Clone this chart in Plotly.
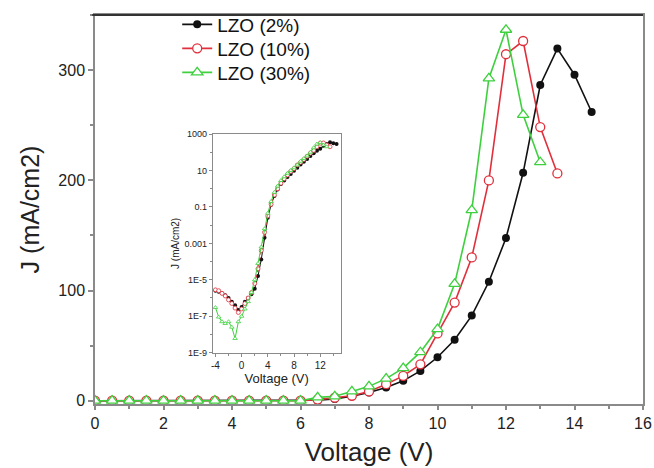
import plotly.graph_objects as go

# ---------------- main panel data ----------------
voltage = [0.0, 0.5, 1.0, 1.5, 2.0, 2.5, 3.0, 3.5, 4.0, 4.5, 5.0, 5.5, 6.0, 6.5,
           7.0, 7.5, 8.0, 8.5, 9.0, 9.5, 10.0, 10.5, 11.0, 11.5, 12.0, 12.5,
           13.0, 13.5, 14.0, 14.5]
j_2 = [0, 0, 0, 0, 0, 0, 0, 0, 0, 0, 0, 0, 0, 0.5,
       1.5, 4, 7.5, 12, 18, 27, 39.4, 55.3, 77.2, 107.9, 147.6, 206.8,
       286.5, 319.5, 295.8, 262]
j_10 = [0, 0, 0, 0, 0, 0, 0, 0, 0, 0, 0, 0, 0, 1,
        2.7, 4.5, 8.4, 15, 22.5, 33, 61, 89, 130, 199.9, 314.4, 326.4,
        248.3, 206.2]
j_30 = [0, 0, 0, 0, 0, 0, 0, 0, 0, 0, 0, 0, 0, 3,
        4, 8.4, 13, 20, 29.6, 44, 65, 106, 173, 292.5, 336.6, 259.4,
        216.4]

# ---------------- inset data (log scale) ----------------
v_inset = [-4.0, -3.5, -3.0, -2.5, -2.0, -1.5, -1.0, -0.5, 0.0, 0.5, 1.0, 1.5,
           2.0, 2.5, 3.0, 3.5, 4.0, 4.5, 5.0, 5.5, 6.0, 6.5, 7.0, 7.5, 8.0,
           8.5, 9.0, 9.5, 10.0, 10.5, 11.0, 11.5, 12.0, 12.5, 13.0, 13.5,
           14.0, 14.5]
ji_2 = [2.5e-6, 2.2e-6, 1.8e-6, 1.4e-6, 1.0e-6, 6.3e-7, 4.0e-7, 2.2e-7, 3.2e-7,
        6.3e-7, 1.0e-6, 1.6e-6, 3.2e-6, 1.6e-5, 1.3e-4, 2.0e-3, 0.025, 0.13,
        0.4, 0.9, 1.8, 2.8, 4.4, 6.3, 9.5, 14, 21, 30, 43, 63, 89, 120, 158,
        224, 282, 355, 316, 282]
ji_10 = [2.8e-6, 2.5e-6, 1.8e-6, 1.3e-6, 7.9e-7, 5.0e-7, 2.8e-7, 1.6e-7, 2.5e-7,
         5.0e-7, 1.0e-6, 2.0e-6, 6.3e-6, 4.0e-5, 4.0e-4, 4.0e-3, 0.032, 0.14,
         0.45, 1.0, 2.0, 3.5, 5.6, 8.9, 12.6, 20, 28, 40, 60, 89, 126, 200,
         316, 324, 251, 200]
ji_30 = [3.0e-7, 9.0e-8, 5.0e-8, 4.0e-8, 5.0e-8, 2.5e-8, 6.0e-9, 5.0e-8, 1.0e-7,
         2.5e-7, 6.3e-7, 2.0e-6, 1.0e-5, 7.9e-5, 6.3e-4, 6.3e-3, 0.045, 0.2,
         0.63, 1.4, 2.8, 4.5, 7.1, 10, 14, 20, 32, 45, 63, 100, 178, 282,
         339, 251, 200]

x_ticks = [0, 2, 4, 6, 8, 10, 12, 14, 16]
y_ticks = [0, 100, 200, 300]
xi_ticks = [-4, 0, 4, 8, 12]
xi_ticktext = ["-4", "0", "4", "8", "12"]
yi_tickvals = [1e-9, 1e-7, 1e-5, 1e-3, 1e-1, 10, 1000]
yi_ticktext = ["1E-9", "1E-7", "1E-5", "0.001", "0.1", "10", "1000"]
yi_minor = [1e-8, 1e-6, 1e-4, 1e-2, 1, 100]

labels = ["LZO (2%)", "LZO (10%)", "LZO (30%)"]

BLACK = "#111111"
RED = "#e0303c"
GREEN = "#3ed03e"
AX = "#8a8a8a"
FONT = "Liberation Sans, Arial, sans-serif"

fig = go.Figure()

# main traces (each in its own legend box so rows can be spaced like the reference)
fig.add_trace(go.Scatter(x=voltage[:len(j_2)], y=j_2, name=labels[0], mode="lines+markers",
                         legend="legend",
                         line=dict(color=BLACK, width=1.6),
                         marker=dict(symbol="circle", size=8, color=BLACK)))
fig.add_trace(go.Scatter(x=voltage[:len(j_10)], y=j_10, name=labels[1], mode="lines+markers",
                         legend="legend2",
                         line=dict(color=RED, width=1.6),
                         marker=dict(symbol="circle", size=9, color="white",
                                     line=dict(color=RED, width=1.3))))
fig.add_trace(go.Scatter(x=voltage[:len(j_30)], y=j_30, name=labels[2], mode="lines+markers",
                         legend="legend3",
                         line=dict(color=GREEN, width=1.6),
                         marker=dict(symbol="triangle-up", size=10, color="white",
                                     line=dict(color=GREEN, width=1.3))))

# inset traces
fig.add_trace(go.Scatter(x=v_inset[:len(ji_2)], y=ji_2, xaxis="x2", yaxis="y2", showlegend=False,
                         mode="lines+markers", line=dict(color=BLACK, width=1),
                         marker=dict(symbol="circle", size=4, color=BLACK)))
fig.add_trace(go.Scatter(x=v_inset[:len(ji_10)], y=ji_10, xaxis="x2", yaxis="y2", showlegend=False,
                         mode="lines+markers", line=dict(color=RED, width=1, dash="dot"),
                         marker=dict(symbol="circle", size=4, color="white",
                                     line=dict(color=RED, width=0.8))))
fig.add_trace(go.Scatter(x=v_inset[:len(ji_30)], y=ji_30, xaxis="x2", yaxis="y2", showlegend=False,
                         mode="lines+markers", line=dict(color=GREEN, width=1),
                         marker=dict(symbol="triangle-up", size=4, color="white",
                                     line=dict(color=GREEN, width=0.8))))

leg_common = dict(x=0.150, xanchor="left", yanchor="top", bgcolor="rgba(0,0,0,0)",
                  font=dict(size=19, color="#111"), itemwidth=30)

fig.update_layout(
    width=654, height=468,
    margin=dict(l=95, r=11, t=15, b=64, autoexpand=False),
    paper_bgcolor="white", plot_bgcolor="white",
    font=dict(family=FONT, color="#222"),
    showlegend=True,
    legend=dict(y=1.0244, **leg_common),
    legend2=dict(y=0.9627, **leg_common),
    legend3=dict(y=0.9010, **leg_common),
    xaxis=dict(domain=[0, 1], range=[0, 16], tickvals=x_ticks, ticks="outside",
               ticklen=4, tickcolor=AX, tickwidth=1.5, automargin=False,
               minor=dict(dtick=1, ticks="outside", ticklen=3, tickcolor=AX),
               showline=True, linecolor=AX, linewidth=1.5, mirror=True,
               showgrid=False, zeroline=False,
               tickfont=dict(size=16, color="#222"),
               title=dict(text="Voltage (V)", font=dict(size=26, color="#222"), standoff=12)),
    yaxis=dict(domain=[0, 1], range=[-3, 350], tickvals=y_ticks, ticks="outside",
               ticklen=5, tickcolor=AX, tickwidth=1.5, automargin=False,
               minor=dict(dtick=50, ticks="outside", ticklen=3, tickcolor=AX),
               showline=True, linecolor=AX, linewidth=1.5, mirror=True,
               showgrid=False, zeroline=False,
               tickfont=dict(size=16, color="#222"),
               title=dict(text="J (mA/cm2)", font=dict(size=25, color="#222"), standoff=12)),
    xaxis2=dict(domain=[0.215, 0.448], anchor="y2", range=[-4.4, 15.1],
                tickvals=xi_ticks, ticktext=xi_ticktext, ticks="outside", ticklen=3,
                tickcolor=AX, automargin=False,
                minor=dict(dtick=2, ticks="outside", ticklen=2, tickcolor=AX),
                showline=True, linecolor=AX, linewidth=1.2, mirror=True,
                showgrid=False, zeroline=False,
                tickfont=dict(size=10, color="#222"),
                title=dict(text="Voltage (V)", font=dict(size=13, color="#222"), standoff=4)),
    yaxis2=dict(domain=[0.132, 0.694], anchor="x2", type="log", range=[-9, 3],
                tickvals=yi_tickvals, ticktext=yi_ticktext, ticks="outside",
                ticklen=3, tickcolor=AX, automargin=False,
                minor=dict(tickvals=yi_minor, ticks="outside", ticklen=2, tickcolor=AX),
                showline=True, linecolor=AX, linewidth=1.2, mirror=True,
                showgrid=False, zeroline=False,
                tickfont=dict(size=9, color="#222"),
                title=dict(text="J (mA/cm2)", font=dict(size=10, color="#222"), standoff=2)),
    shapes=[dict(type="line", xref="paper", yref="paper", x0=-0.005, x1=1.0, y0=1, y1=1,
                 line=dict(color="#333", width=2.2))],
)

fig.write_html("out.html",
               config={"displayModeBar": False},
               post_script="document.body.style.margin='0';"
                           "document.body.style.overflow='hidden';")
